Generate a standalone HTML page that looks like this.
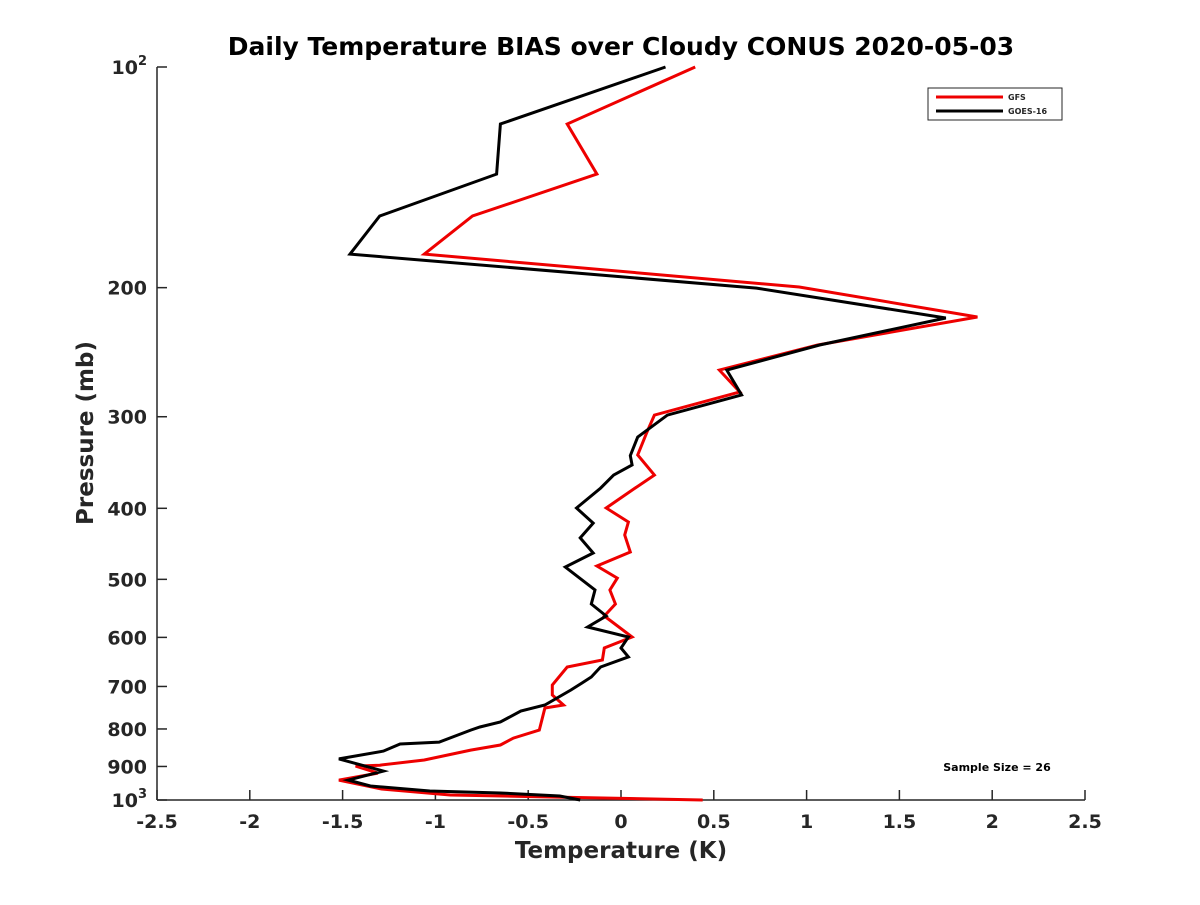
<!DOCTYPE html>
<html><head><meta charset="utf-8"><style>
body{margin:0;background:#fff;}
svg text{font-family:"DejaVu Sans","Liberation Sans",sans-serif;font-weight:bold;fill:#262626;}
</style></head><body>
<svg id="chart" width="1200" height="900" xmlns="http://www.w3.org/2000/svg">
<rect width="1200" height="900" fill="#fff"/>
<text x="621" y="55" font-size="25" text-anchor="middle" style="fill:#000">Daily Temperature BIAS over Cloudy CONUS 2020-05-03</text>
<g id="axes"></g>
<g id="series"></g>
<text x="621" y="858" font-size="23" text-anchor="middle">Temperature (K)</text>
<text transform="translate(93,433) rotate(-90)" font-size="23" text-anchor="middle">Pressure (mb)</text>
<g>
<rect x="928" y="88" width="134" height="32" fill="#fff" stroke="#262626" stroke-width="1"/>
<g><line x1="936" y1="97" x2="1003" y2="97" stroke="#e00" stroke-width="3"/><text x="1008" y="100" font-size="8">GFS</text></g>
<g><line x1="936" y1="111" x2="1003" y2="111" stroke="#000" stroke-width="3"/><text x="1008" y="114" font-size="8">GOES-16</text></g>
</g>
<text x="997" y="771" font-size="11" text-anchor="middle" style="fill:#000">Sample Size = 26</text>
</svg>
<script>
const xTicks=[-2.5,-2,-1.5,-1,-0.5,0,0.5,1,1.5,2,2.5];
const xTickLabels=["-2.5","-2","-1.5","-1","-0.5","0","0.5","1","1.5","2","2.5"];
const yTicks=[100,200,300,400,500,600,700,800,900,1000];
const yTickLabels=["10^2","200","300","400","500","600","700","800","900","10^3"];
const gfsT=[0.40,-0.29,-0.13,-0.80,-1.06,0.96,1.92,1.06,0.53,0.64,0.18,0.14,0.09,0.18,0.06,-0.08,0.04,0.02,0.05,-0.13,-0.02,-0.06,-0.03,-0.09,0.06,-0.09,-0.10,-0.29,-0.37,-0.37,-0.31,-0.41,-0.44,-0.58,-0.65,-0.81,-1.06,-1.30,-1.43,-1.31,-1.52,-1.29,-0.92,-0.38,0.44];
const gfsP=[100,119.6,140,159.7,180,199.6,219.3,239.5,259.1,277.6,298.5,314.7,338.3,360.4,377.8,399.6,417.6,435,458.9,479.5,498,517,540.3,561,599.2,620.3,644.2,658.6,696.9,719.1,742,749,802.8,823.2,841.4,855,882,896.5,899.1,919.1,939.5,966,984.4,990.6,1000];
const goesT=[0.24,-0.65,-0.67,-1.30,-1.46,0.73,1.75,1.07,0.57,0.65,0.25,0.09,0.05,0.06,-0.04,-0.11,-0.24,-0.15,-0.22,-0.15,-0.30,-0.14,-0.16,-0.08,-0.18,0.04,0.00,0.04,-0.11,-0.16,-0.21,-0.27,-0.41,-0.54,-0.65,-0.76,-0.81,-0.98,-1.19,-1.28,-1.52,-1.28,-1.47,-1.35,-1.03,-0.65,-0.33,-0.22];
const goesP=[100,119.6,140,159.7,180,200.3,220,239.5,259.1,280.2,298.5,319.8,339,349.1,360.4,375.4,399.6,419,439,460.3,481,517,540.3,561,580.7,599.2,620.3,638,658.6,679.6,692.5,707.9,742,756.2,782.8,795.2,802.8,833.6,838.8,857.6,879,913.3,939.5,957,972,978.2,987.4,1000];

const L=157,R=1085,T=67,B=800;
const xs=v=>L+(v+2.5)/5*(R-L);
const ys=p=>T+(Math.log10(p)-2)*(B-T);
const NS="http://www.w3.org/2000/svg";
function mk(tag,attrs,parent){const e=document.createElementNS(NS,tag);for(const k in attrs)e.setAttribute(k,attrs[k]);parent.appendChild(e);return e;}
const ax=document.getElementById('axes');
let el=mk('line',{x1:L,y1:B,x2:R,y2:B,stroke:'#262626','stroke-width':1.5},ax);


el=mk('line',{x1:L,y1:T,x2:L,y2:B,stroke:'#262626','stroke-width':1.5},ax);


xTicks.forEach((v,i)=>{
  const x=xs(v);
  const t=mk('line',{x1:x,y1:B,x2:x,y2:B-10,stroke:'#262626','stroke-width':1.5},ax);
  
  
  const tx=mk('text',{x:x,y:B+28,'font-size':19,'text-anchor':'middle'},ax);
  tx.textContent=xTickLabels[i];
  
  
});
yTicks.forEach((v,i)=>{
  const y=ys(v);
  const t=mk('line',{x1:L,y1:y,x2:L+10,y2:y,stroke:'#262626','stroke-width':1.5},ax);
  
  
  const lab=yTickLabels[i];
  const tx=mk('text',{x:L-10,y:y+7,'font-size':19,'text-anchor':'end'},ax);
  if(lab.indexOf('^')>=0){
    const parts=lab.split('^');
    tx.textContent=parts[0];
    const s=mk('tspan',{dy:-9,'font-size':13},tx);
    s.textContent=parts[1];
  } else tx.textContent=lab;
  
  
});
const sg=document.getElementById('series');
function line(Ts,Ps,color,name){
  const pts=Ts.map((t,i)=>xs(t).toFixed(1)+','+ys(Ps[i]).toFixed(1)).join(' ');
  const p=mk('polyline',{points:pts,fill:'none',stroke:color,'stroke-width':3,'stroke-linejoin':'miter'},sg);
  
  
}
line(gfsT,gfsP,'#e00','gfs-line');
line(goesT,goesP,'#000','goes16-line');
</script>
</body></html>
